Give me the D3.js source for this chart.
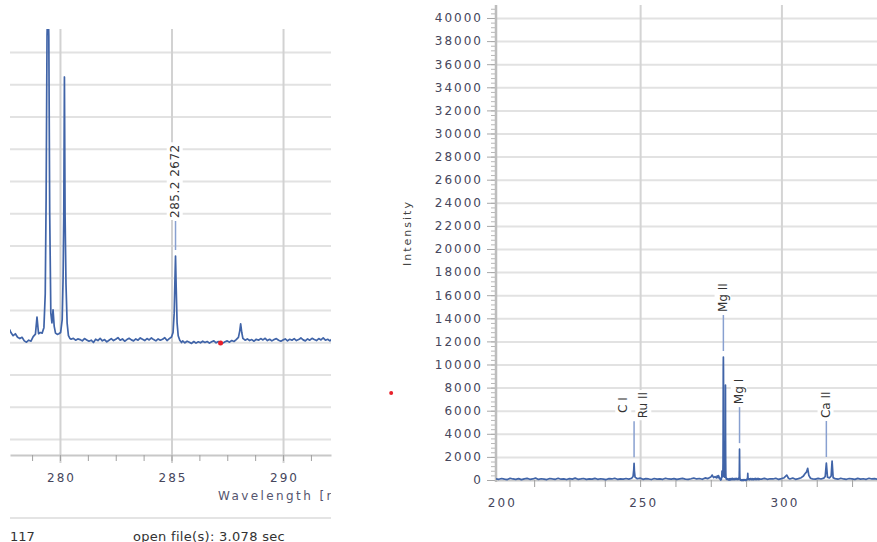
<!DOCTYPE html>
<meta charset="utf-8">

<head>
  <title>Spectrum</title>
  <script src="https://d3js.org/d3.v7.min.js"></script>
  <style>
    body { margin: 0; background: #fff; }
    text { font-family: "DejaVu Sans", Verdana, sans-serif; }
  </style>
</head>

<body>
  <div id="chart"></div>

  <script>
    // spectrum, [wavelength nm, counts]
    var lowBand = [
      [199, 90], [200, 60], [201, 130], [202, 70], [203, 40], [204, 150], [205, 90], [206, 60], [207, 120], [208, 30],
      [209, 100], [210, 140], [211, 60], [212, 90], [213, 170], [214, 50], [215, 110], [216, 80], [217, 40], [218, 130],
      [219, 90], [220, 60], [221, 150], [222, 70], [223, 100], [224, 40], [225, 120], [226, 80], [227, 160], [228, 60],
      [229, 90], [230, 130], [231, 50], [232, 100], [233, 70], [234, 140], [235, 60], [236, 110], [237, 80], [238, 40],
      [239, 120], [240, 90], [241, 150], [242, 60], [243, 100], [244, 70], [245, 130], [246, 80], [247, 150],
      [247.5, 300], [247.75, 900], [247.86, 1450], [247.97, 800], [248.2, 250], [249, 110], [250, 160], [251, 60],
      [252, 120], [253, 90], [254, 40], [255, 130], [256, 80], [257, 100], [258, 60], [259, 150], [260, 90], [261, 70],
      [262, 120], [263, 50], [264, 100], [265, 140], [266, 80], [267, 60], [268, 110], [269, 170], [270, 90], [271, 130],
      [272, 60], [273, 180], [274, 120], [275, 250], [275.5, 430], [276, 200], [276.5, 300], [277, 180], [277.3, 350]
    ];

    var zoomBand = [
      [277.6, 200], [277.7, 250], [277.75, 380], [277.8, 300], [277.9, 200], [278.0, 260], [278.1, 150], [278.2, 110],
      [278.3, 150], [278.4, 40], [278.5, 0], [278.6, 60], [278.7, 30], [278.8, 170], [278.9, 250], [278.97, 780],
      [279.04, 260], [279.12, 300], [279.2, 280], [279.28, 450], [279.34, 1500], [279.38, 4500], [279.42, 9500],
      [279.46, 10650], [279.5, 9500], [279.54, 4000], [279.59, 900], [279.64, 600], [279.69, 1000], [279.74, 500],
      [279.8, 280], [279.88, 240], [279.95, 260], [280.03, 300], [280.1, 700], [280.14, 2000], [280.17, 3900],
      [280.2, 8225], [280.23, 3900], [280.27, 1800], [280.32, 600], [280.38, 200], [280.45, 110], [280.5, 90],
      [280.6, 120], [280.7, 60], [280.8, 100], [280.9, 80], [281.0, 40], [281.1, 110], [281.2, 70], [281.3, 30],
      [281.4, 60], [281.5, -10], [281.6, 90], [281.7, 50], [281.8, 120], [281.9, 40], [282.0, 80], [282.1, 10],
      [282.2, 60], [282.3, 110], [282.4, 50], [282.5, 90], [282.6, 140], [282.7, 60], [282.8, 100], [282.9, 30],
      [283.0, 80], [283.1, 120], [283.2, 70], [283.3, 40], [283.4, 100], [283.5, 60], [283.6, 130], [283.7, 90],
      [283.8, 50], [283.9, 110], [284.0, 70], [284.1, 130], [284.2, 80], [284.3, 40], [284.4, 100], [284.5, 60],
      [284.6, 90], [284.7, 140], [284.8, 50], [284.9, 110], [285.0, 160], [285.07, 300], [285.12, 900],
      [285.15, 1800], [285.18, 2672], [285.21, 1700], [285.25, 600], [285.3, 200], [285.37, 60], [285.45, -10],
      [285.5, 40], [285.6, -20], [285.7, 30], [285.8, 0], [285.9, -40], [286.0, 20], [286.1, -30], [286.2, 10],
      [286.3, -20], [286.4, 30], [286.5, -10], [286.6, 20], [286.7, -30], [286.8, 10], [286.9, 40], [287.0, -20],
      [287.1, 20], [287.2, 0], [287.3, -30], [287.4, 10], [287.5, 40], [287.6, 0], [287.7, 50], [287.8, 20],
      [287.9, 80], [288.0, 150], [288.06, 350], [288.1, 570], [288.15, 300], [288.2, 120], [288.3, 60], [288.4, 100],
      [288.5, 50], [288.6, 80], [288.7, 30], [288.8, 90], [288.9, 60], [289.0, 110], [289.1, 70], [289.2, 120],
      [289.3, 50], [289.4, 90], [289.5, 40], [289.6, 80], [289.7, 110], [289.8, 60], [289.9, 30], [290.0, 70],
      [290.1, 100], [290.2, 40], [290.3, 90], [290.4, 60], [290.5, 110], [290.6, 50], [290.7, 80], [290.8, 130],
      [290.9, 70], [291.0, 40], [291.1, 100], [291.2, 60], [291.3, 120], [291.4, 80], [291.5, 50], [291.6, 110],
      [291.7, 70], [291.8, 130], [291.9, 60], [292.0, 90], [292.1, 40], [292.2, 100], [292.4, 70]
    ];

    var highBand = [
      [293, 80], [294, 140], [295, 60], [296, 110], [297, 90], [298, 150], [299, 50], [300, 120], [301, 200],
      [301.9, 430], [302.5, 150], [303, 90], [304, 170], [305, 60], [306, 120], [307, 200], [307.8, 350], [308.2, 500],
      [308.9, 700], [309.3, 1010], [309.7, 400], [310.3, 150], [311, 100], [312, 70], [313, 140], [314, 90], [315, 160],
      [315.5, 300], [315.9, 1470], [316.3, 250], [317, 180], [317.6, 350], [317.93, 1640], [318.3, 200], [319, 120],
      [320, 70], [321, 150], [322, 90], [323, 60], [324, 130], [325, 100], [326, 50], [327, 140], [328, 80], [329, 110],
      [330, 60], [331, 150], [332, 90], [333, 120], [334, 70]
    ];

    var rightPeaks = [
      { nm: 247.86, counts: 1450, names: ["C I", "Ru II"] },
      { nm: 279.46, counts: 10650, names: ["Mg II"] },
      { nm: 285.18, counts: 2672, names: ["Mg I"] },
      { nm: 315.9, counts: 1470, names: ["Ca II"] }
    ];
    var leftPeaks = [
      { nm: 285.18, counts: 2672, names: ["285.2  2672"] }
    ];

    var rightYTicks = [0, 2000, 4000, 6000, 8000, 10000, 12000, 14000, 16000, 18000, 20000,
      22000, 24000, 26000, 28000, 30000, 32000, 34000, 36000, 38000, 40000];
    var rightXTicks = [200, 250, 300];
    var leftXTicks = [280, 285, 290];
    var leftYGrid = [-3000, -2000, -1000, 0, 1000, 2000, 3000, 4000, 5000, 6000, 7000, 8000, 9000];

    var leftCursor = [287.2, -25];
    var rightMarker = [161.9, 7530];

    var spectrum = lowBand.concat(zoomBand, highBand);

    var W = 877, H = 542;
    var lineColor = "#4064a8", tickColor = "#46465c";

    var svg = d3.select("#chart").append("svg")
      .attr("width", W).attr("height", H);

    var L = { x0: 10, x1: 331, y0: 29, y1: 455 };
    var R = { x0: 496, x1: 877.5, y0: 5, y1: 480 };

    var xL = d3.scaleLinear().domain([277.76, 292.15]).range([L.x0, L.x1]);
    var yL = d3.scaleLinear().domain([-3500, 9713]).range([L.y1, L.y0]);
    var xR = d3.scaleLinear().domain([199, 334]).range([R.x0, R.x1]);
    var yR = d3.scaleLinear().domain([0, 41125]).range([R.y1, R.y0]);

    var defs = svg.append("defs");
    defs.append("clipPath").attr("id", "clipL").append("rect")
      .attr("x", L.x0).attr("y", L.y0).attr("width", L.x1 - L.x0).attr("height", L.y1 - L.y0);
    defs.append("clipPath").attr("id", "clipR").append("rect")
      .attr("x", R.x0).attr("y", R.y0).attr("width", W - R.x0).attr("height", R.y1 - R.y0 + 2);
    defs.append("clipPath").attr("id", "clipLText").append("rect")
      .attr("x", 0).attr("y", 0).attr("width", L.x1).attr("height", H);

    function noDomain(g) { g.select(".domain").remove(); }

    // ---------- left panel ----------
    svg.append("g")
      .attr("transform", "translate(" + L.x0 + ",0)")
      .call(d3.axisLeft(yL).tickValues(leftYGrid).tickSize(-(L.x1 - L.x0)).tickFormat(""))
      .call(noDomain)
      .selectAll("line").attr("stroke", "#e2e2e2").attr("stroke-width", 2);

    svg.append("g")
      .attr("transform", "translate(0," + L.y0 + ")")
      .call(d3.axisBottom(xL).tickValues(leftXTicks).tickSize(L.y1 - L.y0 + 8).tickFormat(""))
      .call(noDomain)
      .selectAll("line").attr("stroke", "#d2d2d2").attr("stroke-width", 2);

    svg.append("g")
      .attr("transform", "translate(0," + L.y1 + ")")
      .call(d3.axisBottom(xL).tickValues(d3.range(278.75, 292, 1.25)).tickSize(6).tickSizeOuter(0).tickFormat(""))
      .call(g => g.select(".domain").attr("stroke", "#c8c8c8").attr("stroke-width", 2))
      .selectAll("line").attr("stroke", "#a0a0a0");

    svg.append("g")
      .attr("transform", "translate(0," + L.y1 + ")")
      .call(d3.axisBottom(xL).tickValues(leftXTicks).tickSize(0).tickPadding(18))
      .call(noDomain)
      .selectAll("text")
      .attr("font-size", 12).attr("letter-spacing", 2).attr("dx", 1).attr("fill", tickColor);

    svg.append("text")
      .attr("clip-path", "url(#clipLText)")
      .attr("x", 218).attr("y", 499.5)
      .attr("font-size", 12).attr("letter-spacing", 2.4).attr("fill", "#55556e")
      .text("Wavelength [nm]");

    svg.append("line")
      .attr("x1", L.x0).attr("x2", L.x1).attr("y1", 518).attr("y2", 518)
      .attr("stroke", "#e4e4e4").attr("stroke-width", 2);

    svg.append("text").attr("x", 10).attr("y", 541).attr("font-size", 13).attr("fill", "#333").text("117");
    svg.append("text").attr("x", 133).attr("y", 541).attr("font-size", 13).attr("letter-spacing", 0.3)
      .attr("fill", "#333").text("open file(s): 3.078 sec");

    var lineL = d3.line().x(d => xL(d[0])).y(d => yL(d[1]));
    svg.append("path")
      .datum(spectrum)
      .attr("clip-path", "url(#clipL)")
      .attr("fill", "none").attr("stroke", lineColor).attr("stroke-width", 1.7)
      .attr("stroke-linejoin", "round")
      .attr("d", lineL);

    // ---------- right panel ----------
    svg.append("g")
      .attr("transform", "translate(" + R.x0 + ",0)")
      .call(d3.axisLeft(yR).tickValues(rightYTicks.slice(1)).tickSize(-(W - R.x0)).tickFormat(""))
      .call(noDomain)
      .selectAll("line").attr("stroke", "#e2e2e2").attr("stroke-width", 2);

    svg.append("g")
      .attr("transform", "translate(0," + R.y0 + ")")
      .call(d3.axisBottom(xR).tickValues(rightXTicks.slice(1)).tickSize(R.y1 - R.y0).tickFormat(""))
      .call(noDomain)
      .selectAll("line").attr("stroke", "#d4d4d4").attr("stroke-width", 2);

    // minor and major y ticks
    svg.append("g")
      .attr("transform", "translate(" + (R.x0 - 1) + ",0)")
      .call(d3.axisLeft(yR).tickValues(d3.range(0, 41000, 400)).tickSize(4).tickFormat(""))
      .call(noDomain)
      .selectAll("line").attr("stroke", "#b8b8b8");

    svg.append("g")
      .attr("transform", "translate(" + (R.x0 - 1) + ",0)")
      .call(d3.axisLeft(yR).tickValues(rightYTicks).tickSize(8).tickPadding(4).tickFormat(d3.format("d")))
      .call(noDomain)
      .call(g => g.selectAll("line").attr("stroke", "#a8a8a8"))
      .selectAll("text")
      .attr("font-size", 12).attr("letter-spacing", 2).attr("fill", tickColor);

    svg.append("g")
      .attr("transform", "translate(0," + R.y1 + ")")
      .call(d3.axisBottom(xR).tickValues(d3.range(212.5, 334, 12.5)).tickSize(7).tickSizeOuter(0).tickFormat(""))
      .call(g => g.select(".domain").attr("stroke", "#c8c8c8").attr("stroke-width", 2))
      .selectAll("line").attr("stroke", "#a0a0a0");

    svg.append("g")
      .attr("transform", "translate(0," + R.y1 + ")")
      .call(d3.axisBottom(xR).tickValues(rightXTicks).tickSize(0).tickPadding(18))
      .call(noDomain)
      .selectAll("text")
      .attr("font-size", 12).attr("letter-spacing", 2).attr("dx", 3).attr("fill", tickColor);

    svg.append("line")
      .attr("x1", R.x0).attr("x2", R.x0).attr("y1", R.y0).attr("y2", R.y1 + 2)
      .attr("stroke", "#bdbdbd").attr("stroke-width", 2.5);

    svg.append("text")
      .attr("transform", "translate(407.5,233) rotate(-90)")
      .attr("text-anchor", "middle").attr("dy", "0.35em")
      .attr("font-size", 11).attr("letter-spacing", 2).attr("fill", "#444")
      .text("Intensity");

    var lineR = d3.line().x(d => xR(d[0])).y(d => yR(d[1]));
    svg.append("path")
      .datum(spectrum)
      .attr("clip-path", "url(#clipR)")
      .attr("fill", "none").attr("stroke", lineColor).attr("stroke-width", 1.7)
      .attr("stroke-linejoin", "round")
      .attr("d", lineR);

    // ---------- peak labels ----------
    function peakLabels(peaks, x, y, offset, fontSize, spacing) {
      peaks.forEach(function (p) {
        var px = x(p.nm), py = y(p.counts);
        var bottom = py - offset;
        svg.append("line")
          .attr("x1", px).attr("x2", px).attr("y1", py - 6).attr("y2", bottom + 3)
          .attr("stroke", "#88a0d0").attr("stroke-width", 1.5);

        var g = svg.append("g");
        var n = p.names.length;
        var texts = p.names.map(function (name, i) {
          return g.append("text")
            .attr("y", (i - (n - 1) / 2) * 20)
            .attr("dy", "0.35em")
            .attr("text-anchor", "middle")
            .attr("font-size", fontSize)
            .attr("letter-spacing", spacing)
            .attr("fill", "#333")
            .text(name);
        });
        var len = d3.max(texts, t => t.node().getComputedTextLength());
        texts.forEach(t => t.attr("x", len / 2));
        g.attr("transform", "translate(" + (px - 1) + "," + bottom + ") rotate(-90)");
        texts.forEach(function (t) {
          var b = t.node().getBBox();
          g.insert("rect", "text")
            .attr("x", b.x - 2).attr("y", b.y - 1)
            .attr("width", b.width + 4).attr("height", b.height + 2)
            .attr("fill", "#fff");
        });
      });
    }

    peakLabels(leftPeaks, xL, yL, 38, 12, 0.5);
    peakLabels(rightPeaks, xR, yR, 45, 12, 0);

    // ---------- markers ----------
    svg.append("circle")
      .attr("cx", xL(leftCursor[0])).attr("cy", yL(leftCursor[1])).attr("r", 2.5)
      .attr("fill", "#e8202a");
    svg.append("circle")
      .attr("cx", xR(rightMarker[0])).attr("cy", yR(rightMarker[1])).attr("r", 2)
      .attr("fill", "#e8202a");
  </script>
</body>

</html>
